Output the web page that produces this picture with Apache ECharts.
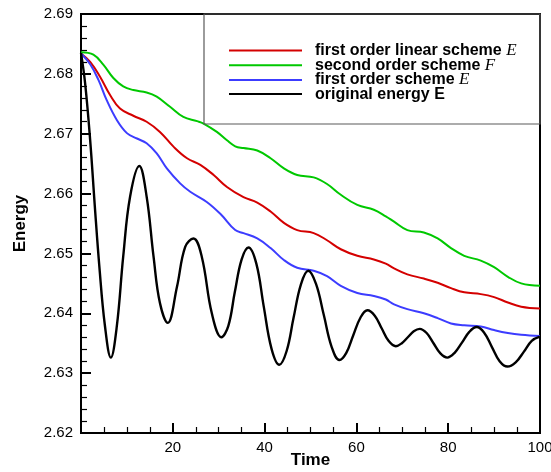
<!DOCTYPE html>
<html><head><meta charset="utf-8">
<script src="https://cdn.jsdelivr.net/npm/echarts@6/dist/echarts.min.js"></script>
<style>html,body{margin:0;padding:0;background:#fff}#c{width:551px;height:472px}</style>
</head><body><div id="c"></div>
<script>
// ---- data ----
const seriesNames = ['first order linear scheme E', 'second order scheme F', 'first order scheme E', 'original energy E'];
const legendLabels = ['first order linear scheme {m|E}', 'second order scheme {m|F}', 'first order scheme {m|E}', 'original energy E'];
const xTicks = [20, 40, 60, 80, 100];
const yTicks = [2.62, 2.63, 2.64, 2.65, 2.66, 2.67, 2.68, 2.69];

const timeRed = [0, 2, 4.15, 6.3, 8.5, 11.4, 14.3, 17.2, 20.2, 23.1, 26, 28.9, 31.8, 35.4, 38.4, 41.3, 44.2, 47.1, 50.7, 53.6, 56.6, 60.2, 63.8, 66.4, 68.2, 71.1, 74.7, 77.7, 80.6, 83.5, 87.1, 90, 93, 95.9, 100];
const energyRed = [2.6834, 2.6820, 2.6795, 2.6765, 2.6742, 2.6730, 2.6720, 2.6703, 2.6678, 2.6659, 2.6648, 2.6631, 2.6611, 2.6594, 2.6585, 2.6570, 2.6551, 2.6539, 2.6534, 2.6522, 2.6507, 2.6496, 2.6490, 2.6483, 2.6475, 2.6465, 2.6458, 2.6451, 2.6442, 2.6435, 2.6432, 2.6427, 2.6418, 2.6411, 2.6408];

const timeGreen = [0, 2.7, 4.9, 7.05, 9.2, 11.4, 14.3, 16.5, 19.4, 22.3, 25.3, 26.7, 29.6, 31.8, 33.6, 35.4, 38.4, 41.3, 44.2, 47.1, 50.7, 53.6, 56.6, 60.2, 63.8, 66.4, 68.2, 71.1, 74.7, 77.7, 80.6, 83.5, 87.1, 90, 93, 95.9, 100];
const energyGreen = [2.6836, 2.6832, 2.6815, 2.6793, 2.6779, 2.6773, 2.6769, 2.6762, 2.6745, 2.6728, 2.6721, 2.6717, 2.6703, 2.6689, 2.6679, 2.6676, 2.6672, 2.6659, 2.6642, 2.6631, 2.6627, 2.6616, 2.6598, 2.6581, 2.6573, 2.6562, 2.6553, 2.6539, 2.6535, 2.6525, 2.6509, 2.6496, 2.6488, 2.6477, 2.6461, 2.6450, 2.6446];

const timeBlue = [0, 2, 3.8, 5.6, 7.8, 10, 12.2, 14.3, 16.5, 18.7, 21.6, 23.8, 27.4, 30.5, 33.6, 35.4, 38.4, 41.3, 44.2, 47.1, 50.7, 53.6, 56.6, 60.2, 63.8, 66.4, 68.2, 71.1, 74.7, 77.7, 80.6, 83.5, 87.1, 90, 93, 95.9, 100];
const energyBlue = [2.6834, 2.6816, 2.6790, 2.6756, 2.6723, 2.6701, 2.6692, 2.6684, 2.6667, 2.6642, 2.6617, 2.6603, 2.6586, 2.6565, 2.6539, 2.6534, 2.6525, 2.6509, 2.6489, 2.6476, 2.6471, 2.6462, 2.6446, 2.6434, 2.6429, 2.6423, 2.6415, 2.6407, 2.6400, 2.6392, 2.6383, 2.6380, 2.6378, 2.6372, 2.6367, 2.6364, 2.6362];

const timeBlack = [0, 0.9, 2, 3, 4, 5.2, 6.5, 7.8, 9.2, 10.7, 12.7, 14.3, 15.8, 17.2, 18.9, 20.9, 22.7, 24.5, 26.3, 28.5, 30.6, 32.1, 33.5, 35, 36.5, 38.2, 39.8, 41.5, 43.2, 44.8, 46.3, 47.9, 49.5, 51.2, 52.9, 54.6, 56.3, 57.8, 59.3, 60.9, 62.4, 64, 65.5, 67, 68.6, 69.9, 71.2, 72.5, 73.8, 75.3, 76.8, 78.3, 79.8, 81.4, 83, 84.6, 86.2, 87.8, 89.5, 91.2, 92.9, 94.7, 96.5, 98.2, 100];
const energyBlack = [2.6835, 2.6784, 2.6689, 2.6580, 2.6478, 2.6380, 2.6326, 2.6378, 2.6495, 2.6595, 2.6646, 2.6595, 2.6495, 2.6417, 2.6384, 2.6444, 2.6511, 2.6525, 2.6495, 2.6400, 2.6360, 2.6379, 2.6435, 2.6490, 2.6510, 2.6483, 2.6412, 2.6341, 2.6314, 2.6337, 2.6392, 2.6448, 2.6471, 2.6449, 2.6397, 2.6344, 2.6322, 2.6334, 2.6363, 2.6393, 2.6405, 2.6396, 2.6375, 2.6354, 2.6345, 2.6350, 2.6360, 2.6370, 2.6374, 2.6367, 2.6350, 2.6333, 2.6326, 2.6334, 2.6351, 2.6369, 2.6377, 2.6368, 2.6344, 2.6320, 2.6311, 2.6318, 2.6336, 2.6354, 2.6361];

const colors = ['#d40000', '#00c800', '#3c3cff', '#000000'];

// ---- chart ----
const zip = (xs, ys) => xs.map((x, i) => [x, ys[i]]);
const seriesData = [zip(timeRed, energyRed), zip(timeGreen, energyGreen), zip(timeBlue, energyBlue), zip(timeBlack, energyBlack)];

const chart = echarts.init(document.getElementById('c'), null, {renderer: 'canvas'});
const axisCommon = {
  axisLine: {show: true, onZero: false, lineStyle: {color: '#000', width: 2}},
  axisTick: {show: true, inside: true, length: 10, lineStyle: {color: '#000', width: 2}},
  minorTick: {show: true, length: 6, lineStyle: {color: '#000', width: 1.2}},
  splitLine: {show: false},
  axisLabel: {color: '#000', fontSize: 15, fontFamily: 'Liberation Sans'},
  nameMoveOverlap: false,
  nameTextStyle: {color: '#000', fontSize: 17, fontWeight: 'bold', fontFamily: 'Liberation Sans'}
};
chart.setOption({
  animation: false,
  backgroundColor: '#fff',
  grid: {left: 81, right: 11, top: 14, bottom: 39, containLabel: false, outerBoundsMode: 'none',
    show: true, borderColor: '#000', borderWidth: 2, backgroundColor: 'transparent'},
  xAxis: Object.assign({}, axisCommon, {
    type: 'value', min: 0, max: 100, interval: 20,
    name: 'Time', nameLocation: 'middle', nameGap: 19,
    minorTick: Object.assign({}, axisCommon.minorTick, {splitNumber: 4}),
    axisLabel: Object.assign({}, axisCommon.axisLabel, {margin: 7,
      formatter: v => xTicks.includes(v) ? String(v) : ''})
  }),
  yAxis: Object.assign({}, axisCommon, {
    type: 'value', min: yTicks[0], max: yTicks[yTicks.length - 1], interval: 0.01,
    name: 'Energy', nameLocation: 'middle', nameGap: 52, nameRotate: 90,
    minorTick: Object.assign({}, axisCommon.minorTick, {splitNumber: 5}),
    axisLabel: Object.assign({}, axisCommon.axisLabel, {margin: 8,
      formatter: v => v.toFixed(2)})
  }),
  legend: {
    orient: 'vertical', left: 229, top: 42, padding: 0,
    icon: 'rect', itemWidth: 73, itemHeight: 2, itemGap: -2.3,
    selectedMode: false,
    data: seriesNames,
    formatter: name => legendLabels[seriesNames.indexOf(name)],
    textStyle: {
      color: '#000', fontSize: 16, fontWeight: 'bold', fontFamily: 'Liberation Sans',
      lineHeight: 14.7, padding: [0, 0, 0, 8],
      rich: {m: {fontFamily: 'Liberation Serif', fontStyle: 'italic', fontWeight: 'normal', fontSize: 17, lineHeight: 14.7, color: '#000'}}
    }
  },
  graphic: [{
    type: 'rect', z: 100, silent: true,
    shape: {x: 204, y: 14, width: 336, height: 110},
    style: {fill: 'none', stroke: '#5a5a5a', lineWidth: 1.2}
  }],
  series: seriesNames.map((n, i) => ({
    name: n, type: 'line', data: seriesData[i],
    symbol: 'none', smooth: 0.4,
    lineStyle: {color: colors[i], width: i === 3 ? 2.4 : 2},
    itemStyle: {color: colors[i]},
    z: i === 3 ? 3 : 2
  }))
});
</script></body></html>
